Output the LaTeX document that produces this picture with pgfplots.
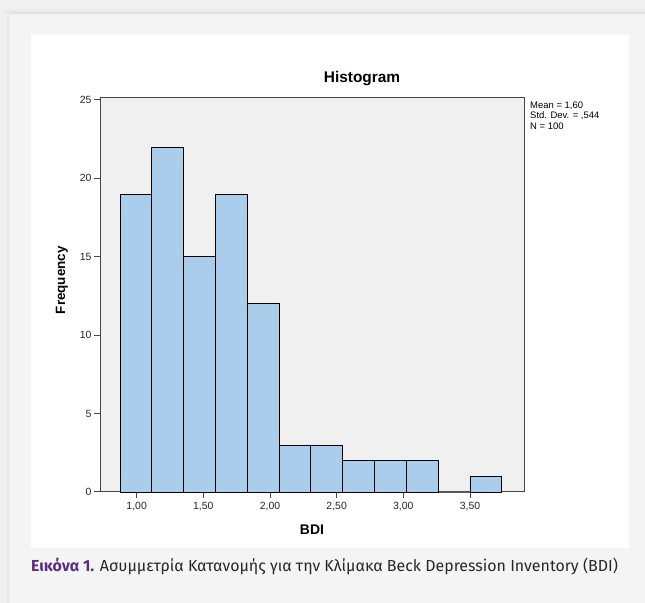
\documentclass[border=0pt]{standalone}
\usepackage{fontspec}
\setmainfont{Liberation Sans}
\newfontfamily\capfont{Fira Sans}
\usepackage{pgfplots}
\pgfplotsset{compat=1.18}
\definecolor{pagebg}{RGB}{240,240,240}
\definecolor{panelbg}{RGB}{244,244,244}
\definecolor{plotbg}{RGB}{240,240,240}
\definecolor{barblue}{RGB}{170,205,236}
\definecolor{axgray}{RGB}{70,70,70}
\definecolor{cappurple}{RGB}{92,45,131}
\definecolor{captext}{RGB}{40,40,40}
\begin{document}
\begin{tikzpicture}[x=1bp,y=1bp]
\fill[pagebg] (0,0) rectangle (645,603);
% soft shadow of the panel (top and left)
\shade[top color=pagebg, bottom color=black!13] (4,589) rectangle (645,595);
\shade[left color=pagebg, right color=black!9] (4,0) rectangle (10,589);
\fill[panelbg] (10,0) rectangle (645,589);
\fill[white] (31,55) rectangle (629,568);
\begin{axis}[
  at={(100bp,111bp)}, anchor=south west,
  scale only axis, width=424bp, height=394.5bp,
  xmin=0.725, xmax=3.905, ymin=0, ymax=25.16,
  axis background/.style={fill=plotbg},
  axis line style={axgray, line width=1pt},
  every tick/.style={axgray, line width=1pt},
  tick align=outside, tick pos=left,
  major tick length=6bp,
  xtick={1,1.5,2,2.5,3,3.5},
  xticklabels={{1,00},{1,50},{2,00},{2,50},{3,00},{3,50}},
  ytick={0,5,10,15,20,25},
  /pgf/number format/assume math mode=true,
  tick label style={font=\fontsize{10.5}{12}\selectfont, text=black!85},
  xticklabel style={yshift=-1bp},
  yticklabel style={xshift=1bp},
  title={Histogram},
  title style={at={(axis description cs:0.618,1.024)}, anchor=base, font=\fontsize{15.5}{18}\selectfont\bfseries},
  xlabel={BDI},
  xlabel style={at={(axis description cs:0.5,-0.0963)}, anchor=center, font=\fontsize{14}{16}\selectfont\bfseries},
  ylabel={Frequency},
  ylabel style={at={(axis description cs:-0.0896,0.537)}, anchor=center, font=\fontsize{13.5}{15}\selectfont\bfseries},
  clip=false,
]
\addplot[ybar interval, fill=barblue, draw=black, line width=0.9pt] coordinates {
  (0.875,19) (1.1136,22) (1.3522,15) (1.5908,19) (1.8294,12) (2.068,3)
  (2.3066,3) (2.5452,2) (2.7838,2) (3.0224,2) (3.261,0) (3.4996,1) (3.7382,0)
};
\node[anchor=north west, align=left, font=\fontsize{9.5}{10.8}\selectfont, inner sep=0pt]
  at (axis description cs:1.0142,0.99) {Mean = 1,60\\Std. Dev. = ,544\\N = 100};
\end{axis}
\node[anchor=base west, inner sep=0pt, font=\capfont\fontsize{16}{19}\selectfont] at (31,31)
  {\textcolor{cappurple}{\bfseries Εικόνα 1.} \textcolor{captext}{Ασυμμετρία Κατανομής για την Κλίμακα Beck Depression Inventory (BDI)}};
\end{tikzpicture}
\end{document}
